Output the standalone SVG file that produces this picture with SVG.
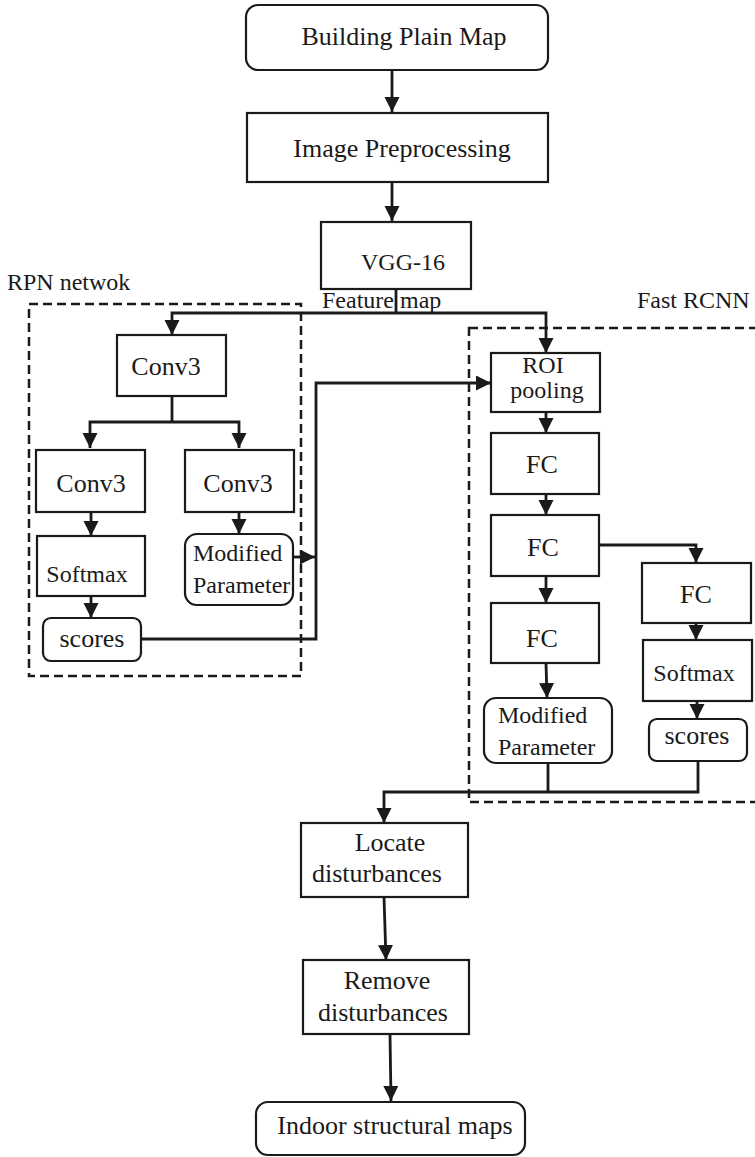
<svg xmlns="http://www.w3.org/2000/svg" width="755" height="1157" viewBox="0 0 755 1157">
<defs>
<marker id="ah" markerUnits="userSpaceOnUse" markerWidth="16" markerHeight="16" viewBox="0 0 16 16" refX="15" refY="7.5" orient="auto">
<path d="M0,0 L15,7.5 L0,15 Z" fill="#1a1a1a"/>
</marker>
<style>
.box{fill:#fff;stroke:#1a1a1a;stroke-width:2.2}
.grp{fill:none;stroke:#1a1a1a;stroke-width:2.5;stroke-dasharray:9,5}
.t{font-family:"Liberation Serif","Times New Roman",serif;fill:#1a1a1a;font-size:26px;text-anchor:middle}
.s{font-size:24px}
.l{text-anchor:start}
.c{fill:none;stroke:#1a1a1a;stroke-width:2.8}
.a{marker-end:url(#ah)}
</style>
</defs>
<rect width="755" height="1157" fill="#fff"/>

<g id="groups">
<rect class="grp" x="29" y="304" width="272" height="372"/>
<rect class="grp" x="469" y="328" width="300" height="474"/>
<text class="t s l" x="7" y="290">RPN netwok</text>
<text class="t s l" x="637" y="308">Fast RCNN</text>
</g>

<g id="connectors">
<path class="c a" d="M392,70 V112"/>
<path class="c a" d="M392,182 V221"/>
<path class="c" d="M396,289 V313"/>
<path class="c a" d="M396,313 H172 V335"/>
<path class="c a" d="M396,313 H546 V353"/>
<path class="c" d="M172,396 V422"/>
<path class="c a" d="M172,422 H90 V448"/>
<path class="c a" d="M172,422 H239 V448"/>
<path class="c a" d="M91,512 V536"/>
<path class="c a" d="M91,596 V618"/>
<path class="c a" d="M239,512 V534"/>
<path class="c a" d="M287,557 H315"/>
<path class="c a" d="M141,639 H316 V383 H491"/>
<path class="c a" d="M546,412 V433"/>
<path class="c a" d="M546,494 V515"/>
<path class="c a" d="M546,576 V603"/>
<path class="c a" d="M599,545 H696 V563"/>
<path class="c a" d="M696,623 V640"/>
<path class="c a" d="M697,701 V719"/>
<path class="c a" d="M546,663 L547,698"/>
<path class="c" d="M548,763 V792"/>
<path class="c" d="M698,761 V792 H548"/>
<path class="c a" d="M548,792 H384 V823"/>
<path class="c a" d="M384,897 L386,960"/>
<path class="c a" d="M390,1034 L391,1101"/>
</g>

<g id="building-plain-map">
<rect class="box" x="246" y="5" width="302" height="65" rx="12"/>
<text class="t" x="404" y="45">Building Plain Map</text>
</g>
<g id="image-preprocessing">
<rect class="box" x="247" y="113" width="301" height="69"/>
<text class="t" x="402" y="157">Image Preprocessing</text>
</g>
<g id="vgg16">
<rect class="box" x="321" y="222" width="150" height="67"/>
<text class="t s" x="403" y="270">VGG-16</text>
</g>
<text id="feature-map" class="t s l" x="322" y="308">Feature map</text>

<g id="rpn-conv3">
<rect class="box" x="117" y="335" width="109" height="61"/>
<text class="t" x="166" y="375">Conv3</text>
</g>
<g id="rpn-conv3-left">
<rect class="box" x="36" y="450" width="109" height="62"/>
<text class="t" x="91" y="492">Conv3</text>
</g>
<g id="rpn-conv3-right">
<rect class="box" x="185" y="450" width="109" height="62"/>
<text class="t" x="238" y="492">Conv3</text>
</g>
<g id="rpn-softmax">
<rect class="box" x="37" y="536" width="108" height="60"/>
<text class="t s" x="87" y="582">Softmax</text>
</g>
<g id="rpn-scores">
<rect class="box" x="43" y="618" width="98" height="43" rx="8"/>
<text class="t" x="92" y="647">scores</text>
</g>
<g id="rpn-modified-parameter">
<rect class="box" x="185" y="534" width="108" height="71" rx="12"/>
<text class="t s l" x="193" y="561">Modified</text>
<text class="t s l" x="193" y="593">Parameter</text>
</g>

<g id="roi-pooling">
<rect class="box" x="491" y="353" width="109" height="59"/>
<text class="t s" x="543" y="373">ROI</text>
<text class="t s" x="547" y="398">pooling</text>
</g>
<g id="fc1">
<rect class="box" x="491" y="433" width="108" height="61"/>
<text class="t" x="542" y="473">FC</text>
</g>
<g id="fc2">
<rect class="box" x="491" y="515" width="108" height="61"/>
<text class="t" x="543" y="556">FC</text>
</g>
<g id="fc3">
<rect class="box" x="491" y="603" width="108" height="60"/>
<text class="t" x="542" y="647">FC</text>
</g>
<g id="fc-right">
<rect class="box" x="642" y="563" width="109" height="60"/>
<text class="t" x="696" y="603">FC</text>
</g>
<g id="frcnn-softmax">
<rect class="box" x="643" y="640" width="109" height="61"/>
<text class="t s" x="694" y="681">Softmax</text>
</g>
<g id="frcnn-scores">
<rect class="box" x="649" y="719" width="98" height="42" rx="8"/>
<text class="t" x="697" y="744">scores</text>
</g>
<g id="frcnn-modified-parameter">
<rect class="box" x="484" y="698" width="128" height="65" rx="12"/>
<text class="t s l" x="498" y="723">Modified</text>
<text class="t s l" x="498" y="755">Parameter</text>
</g>

<g id="locate-disturbances">
<rect class="box" x="301" y="823" width="167" height="74"/>
<text class="t" x="390" y="851">Locate</text>
<text class="t" x="377" y="882">disturbances</text>
</g>
<g id="remove-disturbances">
<rect class="box" x="303" y="960" width="166" height="74"/>
<text class="t" x="387" y="989">Remove</text>
<text class="t" x="383" y="1021">disturbances</text>
</g>
<g id="indoor-structural-maps">
<rect class="box" x="256" y="1102" width="269" height="53" rx="12"/>
<text class="t" x="395" y="1134">Indoor structural maps</text>
</g>
</svg>
